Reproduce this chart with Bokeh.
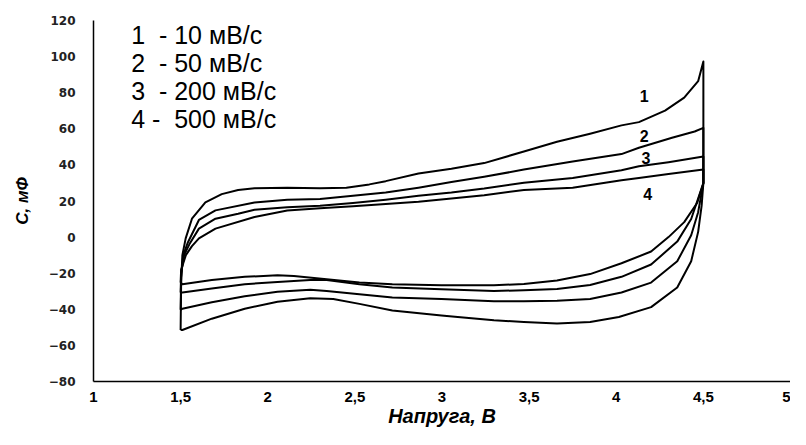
from bokeh.plotting import figure
from bokeh.models import Range1d, FixedTicker
from bokeh.core.properties import value
from bokeh.embed import file_html
from bokeh.resources import INLINE

# ---- data ----
c1_x = [1.5, 1.503, 1.51, 1.529, 1.565, 1.642, 1.736, 1.83, 1.924, 2.112, 2.30, 2.451, 2.583, 2.677, 2.865, 3.054, 3.242, 3.47, 3.66, 3.85, 4.03, 4.13, 4.28, 4.39, 4.47, 4.5,
        4.5, 4.49, 4.47, 4.43, 4.35, 4.20, 4.015, 3.85, 3.66, 3.47, 3.298, 3.09, 2.997, 2.715, 2.526, 2.376, 2.244, 2.056, 1.868, 1.679, 1.51, 1.5]
c1_y = [-51.5, -25, -10, -0.7, 10.2, 19.2, 23.8, 26.1, 27.0, 27.4, 27.0, 27.4, 29.2, 31.0, 35.2, 37.9, 41.0, 47.4, 52.8, 57.3, 61.9, 63.7, 70.1, 77.3, 86.4, 97.3,
        30, 17.4, 2.9, -13.4, -27.9, -38.8, -44.3, -47.0, -47.9, -47.0, -46.1, -44.3, -43.4, -40.7, -37.0, -34.3, -33.9, -35.8, -39.7, -45.2, -51.5, -51.5]

c2_x = [1.5, 1.503, 1.515, 1.54, 1.605, 1.70, 1.924, 2.112, 2.30, 2.489, 2.677, 2.865, 3.054, 3.242, 3.47, 3.75, 4.03, 4.13, 4.32, 4.45, 4.5,
        4.5, 4.47, 4.43, 4.35, 4.20, 4.03, 3.85, 3.66, 3.47, 3.298, 2.997, 2.715, 2.526, 2.338, 2.244, 2.056, 1.868, 1.679, 1.51, 1.5]
c2_y = [-40.3, -22, -10, -3.3, 9.5, 14.8, 19.2, 20.7, 21.1, 22.9, 24.7, 27.4, 30.5, 33.4, 37.4, 41.9, 46.0, 49.5, 55.0, 58.5, 60.5,
        30, 13.8, 1.0, -13.4, -25.2, -30.7, -34.3, -35.2, -35.6, -35.6, -34.3, -33.4, -31.6, -29.8, -29.2, -30.3, -32.8, -36.1, -39.7, -40.3]

c3_x = [1.5, 1.503, 1.52, 1.55, 1.605, 1.70, 1.83, 1.924, 2.112, 2.30, 2.489, 2.677, 2.865, 3.054, 3.242, 3.47, 3.75, 4.03, 4.13, 4.3, 4.5,
        4.5, 4.43, 4.35, 4.20, 4.03, 3.85, 3.66, 3.47, 3.298, 2.997, 2.715, 2.526, 2.338, 2.244, 2.056, 1.868, 1.679, 1.51, 1.5]
c3_y = [-30.7, -20, -10, -4, 4.7, 10.2, 12.9, 15.2, 16.5, 17.4, 18.9, 20.7, 22.9, 24.7, 26.9, 30.1, 32.8, 37.0, 39.2, 41.5, 44.6,
        30, 10, -2.5, -15.2, -22.0, -26.5, -28.8, -29.5, -29.8, -28.9, -27.9, -26.1, -23.8, -23.8, -24.9, -26.1, -28.5, -30.7, -30.7]

c4_x = [1.5, 1.503, 1.53, 1.565, 1.605, 1.70, 1.924, 2.112, 2.30, 2.489, 2.677, 2.865, 3.054, 3.242, 3.47, 3.75, 4.03, 4.13, 4.3, 4.5,
        4.5, 4.465, 4.39, 4.3, 4.20, 4.03, 3.85, 3.66, 3.47, 3.298, 2.997, 2.715, 2.526, 2.338, 2.150, 2.056, 1.868, 1.679, 1.51, 1.5]
c4_y = [-25.2, -18, -10, -5, -0.7, 4.7, 11.1, 14.7, 16.0, 17.1, 18.3, 19.6, 21.4, 23.2, 26.1, 27.4, 31.5, 32.8, 35.0, 37.4,
        30, 19, 8.3, 0, -8, -14.5, -20.5, -24, -26, -26.7, -26.7, -26.1, -25.2, -23.4, -21.6, -21.2, -22.0, -23.8, -26.1, -25.2]

curve_label_text = ["1", "2", "3", "4"]
curve_label_x = [4.16, 4.16, 4.17, 4.18]
curve_label_y = [78, 56, 43.7, 23.8]

NB = "\u00a0"
legend_text = ["1" + NB + NB + "-" + NB + "10" + NB + "мВ/с",
               "2" + NB + NB + "-" + NB + "50" + NB + "мВ/с",
               "3" + NB + NB + "-" + NB + "200" + NB + "мВ/с",
               "4" + NB + "-" + NB + NB + "500" + NB + "мВ/с"]
legend_x = [1.216, 1.216, 1.216, 1.216]
legend_y = [111.8, 96.4, 81.0, 65.5]

x_ticks = [1, 1.5, 2, 2.5, 3, 3.5, 4, 4.5, 5]
x_tick_labels = ["1", "1,5", "2", "2,5", "3", "3,5", "4", "4,5", "5"]
y_ticks = [-80, -60, -40, -20, 0, 20, 40, 60, 80, 100, 120]
x_title = "Напруга, В"
y_title = "C, мФ"

# ---- figure ----
p = figure(width=790, height=429, x_range=Range1d(1, 5), y_range=Range1d(-80, 120),
           output_backend="svg", toolbar_location=None,
           min_border_left=93, min_border_right=0, min_border_top=20, min_border_bottom=45)
p.outline_line_color = None
p.xgrid.visible = False
p.ygrid.visible = False
p.background_fill_color = "white"

for xs, ys in [(c1_x, c1_y), (c2_x, c2_y), (c3_x, c3_y), (c4_x, c4_y)]:
    p.line(xs, ys, line_color="black", line_width=2, line_join="round")

p.text(x=curve_label_x, y=curve_label_y, text=curve_label_text,
       text_font=value("Liberation Sans"), text_font_style="bold", text_font_size="16px",
       text_align="center", text_baseline="middle", text_color="black")

p.text(x=legend_x, y=legend_y, text=legend_text,
       text_font=value("Liberation Sans"), text_font_size="25px",
       text_align="left", text_baseline="middle", text_color="black")

# axes
xa = p.xaxis[0]
xa.ticker = FixedTicker(ticks=x_ticks)
xa.major_label_overrides = {t: l for t, l in zip(x_ticks, x_tick_labels)}
xa.major_tick_out = 0
xa.major_tick_in = 0
xa.minor_tick_out = 0
xa.minor_tick_in = 0
xa.axis_line_width = 1.5
xa.axis_line_color = "black"
xa.major_label_standoff = 10
xa.major_label_text_font = "Liberation Sans"
xa.major_label_text_font_style = "bold"
xa.major_label_text_font_size = "15px"
xa.major_label_text_color = "black"
xa.axis_label = x_title
xa.axis_label_text_font = "Liberation Sans"
xa.axis_label_text_font_style = "bold italic"
xa.axis_label_text_font_size = "20px"
xa.axis_label_text_color = "black"
xa.axis_label_standoff = 0

ya = p.yaxis[0]
ya.ticker = FixedTicker(ticks=y_ticks)
ya.major_tick_out = 0
ya.major_tick_in = 0
ya.minor_tick_out = 0
ya.minor_tick_in = 0
ya.axis_line_width = 1.5
ya.axis_line_color = "black"
ya.major_label_standoff = 18
ya.major_label_text_font = "DejaVu Sans"
ya.major_label_text_font_style = "bold"
ya.major_label_text_font_size = "12px"
ya.major_label_text_color = "#222222"
ya.axis_label = y_title
ya.axis_label_text_font = "Liberation Sans"
ya.axis_label_text_font_style = "bold italic"
ya.axis_label_text_font_size = "17px"
ya.axis_label_text_color = "black"
ya.axis_label_standoff = 14

open("out.html", "w").write(file_html(p, INLINE))
